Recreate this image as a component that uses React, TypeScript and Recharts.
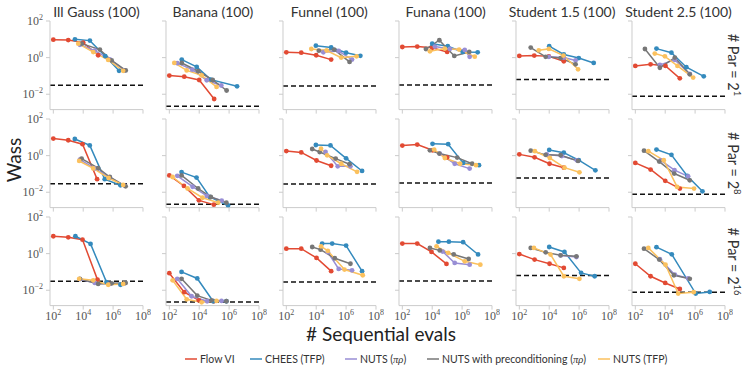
import React from 'react';
import { LineChart, Line, XAxis, YAxis, ReferenceLine } from 'recharts';

type P = [number, number];

const SERIES_KEYS = ['flow', 'chees', 'nutsPr', 'nutsPre', 'nutsTfp'];
const SERIES_COLORS = ['#E24A33', '#348ABD', '#988ED5', '#777777', '#FBC15E'];
const PROBLEMS = ['Ill Gauss (100)', 'Banana (100)', 'Funnel (100)', 'Funana (100)', 'Student 1.5 (100)', 'Student 2.5 (100)'];
const PAR_EXPONENTS = ['1', '8', '16'];
const X_TICKS = [1e2, 1e4, 1e6, 1e8];
const Y_TICKS = [1e-2, 1, 1e2];
const X_DOMAIN = [60, 1e8];
const Y_DOMAIN = [0.00145, 100];

// ---- #Par = 2^1 ----
const gauss_p1 = {
  flow: [[1e2, 9.5], [1e3, 9.1], [1e4, 6.6], [1e5, 1.35]] as P[],
  chees: [[2.8e3, 10], [2.8e4, 8.5], [3e5, 1.2], [2.5e6, 0.19]] as P[],
  nutsPr: [[6e3, 5.0], [6e4, 2.4], [6e5, 0.8], [6e6, 0.2]] as P[],
  nutsPre: [[8e3, 5.8], [1.3e5, 2.75], [8e5, 0.7], [7e6, 0.2]] as P[],
  nutsTfp: [[4.7e3, 5.8], [4.7e4, 2.0], [4.7e5, 0.75], [4.7e6, 0.19]] as P[],
};
const banana_p1 = {
  flow: [[1e2, 0.105], [1e3, 0.091], [1e4, 0.06], [1e5, 0.0055]] as P[],
  chees: [[680, 0.78], [6.8e3, 0.31], [6e4, 0.063], [3.4e6, 0.027]] as P[],
  nutsPr: [[340, 0.5], [3.4e3, 0.22], [3.2e4, 0.058], [3e5, 0.03]] as P[],
  nutsPre: [[680, 0.51], [8.5e3, 0.18], [8e4, 0.06], [6.8e5, 0.016]] as P[],
  nutsTfp: [[215, 0.51], [1.45e3, 0.2], [1.45e4, 0.107], [1.45e5, 0.025]] as P[],
};
const funnel_p1 = {
  flow: [[1e2, 1.95], [1e3, 1.86], [1e4, 1.35], [1e5, 0.78]] as P[],
  chees: [[9.5e3, 4.5], [1e5, 3.6], [1e6, 1.86], [9e6, 1.26]] as P[],
  nutsPr: [[3e4, 1.95], [3.2e5, 2.3], [2.5e6, 0.78]] as P[],
  nutsPre: [[1.5e4, 2.4], [1.6e5, 2.75], [1.7e6, 0.58]] as P[],
  nutsTfp: [[4.7e3, 2.95], [5e4, 2.45], [4.7e5, 1.0], [5e6, 1.17]] as P[],
};
const funana_p1 = {
  flow: [[1e2, 3.8], [1e3, 4.0], [1e4, 3.45], [1e5, 2.05]] as P[],
  chees: [[1e4, 5.75], [1.1e5, 4.2], [1.1e6, 2.05], [1.1e7, 1.95]] as P[],
  nutsPr: [[1.5e4, 4.0], [1.5e5, 3.0], [1.5e6, 2.6], [3.2e6, 1.1]] as P[],
  nutsPre: [[3.8e3, 2.95], [3e4, 8.9], [3e5, 1.23], [3e6, 2.05]] as P[],
  nutsTfp: [[7e3, 2.2], [7e4, 3.1], [6.3e5, 2.75], [7e6, 1.12]] as P[],
};
const student15_p1 = {
  flow: [[1e2, 1.23], [1e3, 1.29], [9.5e3, 1.17], [9.5e4, 0.63]] as P[],
  chees: [[1e4, 4.2], [9.5e4, 1.48], [9.5e5, 0.95], [9.5e6, 0.51]] as P[],
  nutsPr: [[9.5e3, 1.1], [9.5e4, 1.0], [5.8e5, 0.7]] as P[],
  nutsPre: [[580, 3.55], [5.8e3, 1.1], [5.8e4, 0.95], [5.8e5, 0.43]] as P[],
  nutsTfp: [[2e3, 2.5], [9.5e3, 3.0], [9e4, 1.3], [8.5e5, 0.23]] as P[],
};
const student25_p1 = {
  flow: [[1e2, 0.35], [1.05e3, 0.43], [1.05e4, 0.35], [9.5e4, 0.074]] as P[],
  chees: [[2.6e3, 3.1], [2.6e4, 1.86], [2.6e5, 0.3], [3.8e6, 0.095]] as P[],
  nutsPr: [[4.4e3, 0.4], [4.4e4, 0.75], [4.4e5, 0.13]] as P[],
  nutsPre: [[440, 2.95], [4.4e3, 0.28], [4.4e4, 1.0], [4.4e5, 0.123]] as P[],
  nutsTfp: [[2e3, 1.66], [9.5e3, 1.17], [6.6e4, 0.35], [7.4e5, 0.081]] as P[],
};

// ---- #Par = 2^8 ----
const gauss_p8 = {
  flow: [[1e2, 8.5], [1e3, 6.9], [9e3, 4.2], [8.5e4, 0.052]] as P[],
  chees: [[2.75e3, 8.1], [2.75e4, 3.6], [2.75e5, 0.052], [3.1e6, 0.024]] as P[],
  nutsPr: [[6e3, 0.6], [6e4, 0.2], [6e5, 0.065], [6e6, 0.023]] as P[],
  nutsPre: [[7.8e3, 0.69], [1e5, 0.21], [6e5, 0.068], [6.9e6, 0.021]] as P[],
  nutsTfp: [[5.4e3, 0.51], [4.7e4, 0.2], [5e5, 0.06], [4.7e6, 0.025]] as P[],
};
const banana_p8 = {
  flow: [[1e2, 0.083], [950, 0.022], [9.5e3, 0.0036], [9.5e4, 0.0021]] as P[],
  chees: [[660, 0.126], [6.6e3, 0.063], [5.1e4, 0.0055], [8.5e5, 0.0019]] as P[],
  nutsPr: [[340, 0.079], [3.6e3, 0.02], [3.2e4, 0.0063], [3.2e5, 0.0035]] as P[],
  nutsPre: [[660, 0.083], [8.5e3, 0.016], [6e4, 0.0055], [6.6e5, 0.0027]] as P[],
  nutsTfp: [[166, 0.068], [1.66e3, 0.016], [1.66e4, 0.005], [1.86e5, 0.0027]] as P[],
};
const funnel_p8 = {
  flow: [[1e2, 1.78], [1e3, 1.5], [1.05e4, 0.54], [1e5, 0.28]] as P[],
  chees: [[9.5e3, 3.8], [9e4, 3.6], [1e6, 0.71], [1.17e7, 0.145]] as P[],
  nutsPr: [[4.2e4, 1.6], [2.75e5, 0.26], [1.95e6, 0.26]] as P[],
  nutsPre: [[5.4e3, 2.3], [1.7e4, 1.58], [2e5, 0.69], [1.7e6, 0.34]] as P[],
  nutsTfp: [[2.1e4, 2.4], [5.4e4, 1.04], [4.7e5, 0.36], [5.4e6, 0.13]] as P[],
};
const funana_p8 = {
  flow: [[1e2, 3.55], [1e3, 4.0], [1.05e4, 1.95], [1e5, 0.8]] as P[],
  chees: [[1.05e4, 4.4], [1.17e5, 4.2], [1.17e6, 0.4], [1.35e7, 0.3]] as P[],
  nutsPr: [[3.2e4, 1.3], [3.2e5, 0.36], [3.2e6, 0.195]] as P[],
  nutsPre: [[7e3, 1.95], [3e4, 1.3], [4.7e5, 0.78], [4.7e6, 0.36]] as P[],
  nutsTfp: [[1.35e4, 2.15], [7e4, 0.74], [7.4e5, 0.36], [8.5e6, 0.3]] as P[],
};
const student15_p8 = {
  flow: [[1e2, 1.17], [1.05e3, 0.81], [1.05e4, 0.36], [9.5e4, 0.22]] as P[],
  chees: [[1e4, 2.05], [9.5e4, 1.45], [9.5e5, 0.56], [1.23e7, 0.158]] as P[],
  nutsPr: [[7e3, 1.15], [7e4, 0.95], [7e5, 0.55]] as P[],
  nutsPre: [[580, 1.86], [5.8e3, 1.1], [5.8e4, 1.05], [8.5e5, 0.51]] as P[],
  nutsTfp: [[1.1e3, 1.74], [1.1e4, 0.74], [1.05e5, 0.22], [1.05e6, 0.123]] as P[],
};
const student25_p8 = {
  flow: [[1e2, 0.4], [1.05e3, 0.174], [1e4, 0.042], [9.5e4, 0.0158]] as P[],
  chees: [[2.6e3, 2.15], [2.6e4, 1.1], [3e5, 0.078], [3.1e6, 0.0112]] as P[],
  nutsPr: [[5e3, 0.55], [4.2e4, 0.16], [3.4e5, 0.074]] as P[],
  nutsPre: [[380, 1.86], [4e3, 0.47], [4e4, 0.105], [4.4e5, 0.045]] as P[],
  nutsTfp: [[740, 1.74], [8e3, 0.56], [6.3e4, 0.0195], [8.5e5, 0.0158]] as P[],
};

// ---- #Par = 2^16 ----
const gauss_p16 = {
  flow: [[1e2, 8.9], [1e3, 7.8], [9e3, 5.75], [9e4, 0.038]] as P[],
  chees: [[3e3, 8.9], [3.1e4, 3.4], [3.6e5, 0.028], [3.1e6, 0.02]] as P[],
  nutsPr: [[6e3, 0.04], [6e4, 0.025], [6e5, 0.022], [6e6, 0.024]] as P[],
  nutsPre: [[6e3, 0.042], [1e5, 0.022], [8e5, 0.024], [6.9e6, 0.025]] as P[],
  nutsTfp: [[5.4e3, 0.042], [4.7e4, 0.035], [4.7e5, 0.02], [4.7e6, 0.022]] as P[],
};
const banana_p16 = {
  flow: [[1e2, 0.085], [1e3, 0.0078], [9.5e3, 0.0028], [9.5e4, 0.0025]] as P[],
  chees: [[660, 0.1], [7.4e3, 0.044], [8.5e4, 0.0025], [6.6e5, 0.0025]] as P[],
  nutsPr: [[340, 0.042], [3.1e3, 0.0047], [3.4e4, 0.0025], [3.1e5, 0.0026]] as P[],
  nutsPre: [[660, 0.042], [7.4e3, 0.0051], [6.6e4, 0.0028], [6.6e5, 0.0025]] as P[],
  nutsTfp: [[166, 0.035], [1.45e3, 0.0032], [1.45e4, 0.0022], [1.45e5, 0.0026]] as P[],
};
const funnel_p16 = {
  flow: [[1e2, 1.86], [1e3, 1.86], [1.05e4, 0.58], [1e5, 0.11]] as P[],
  chees: [[2.5e4, 3.55], [1.17e5, 3.55], [1e6, 2.75], [1.17e7, 0.11]] as P[],
  nutsPr: [[6e4, 1.2], [3.2e5, 0.145], [2.5e6, 0.123]] as P[],
  nutsPre: [[5.4e3, 2.3], [1.95e4, 1.65], [1.75e5, 0.56], [1.95e6, 0.28]] as P[],
  nutsTfp: [[2.1e4, 2.5], [6e4, 1.4], [7.8e5, 0.135], [1.3e7, 0.066]] as P[],
};
const funana_p16 = {
  flow: [[1e2, 3.55], [1e3, 3.55], [9e3, 1.23], [9e4, 0.275]] as P[],
  chees: [[2.6e4, 4.5], [1.3e5, 4.5], [1.17e6, 4.2], [1.17e7, 0.9]] as P[],
  nutsPr: [[5e4, 1.3], [3.2e5, 0.31], [3.2e6, 0.25]] as P[],
  nutsPre: [[7e3, 2.05], [3.2e4, 1.5], [2.75e5, 0.9], [2.75e6, 0.51]] as P[],
  nutsTfp: [[1.95e4, 2.5], [1.17e5, 1.1], [1.5e6, 0.38], [1.66e7, 0.25]] as P[],
};
const student15_p16 = {
  flow: [[1e2, 0.95], [1.05e3, 0.47], [1.05e4, 0.28], [9.5e4, 0.166]] as P[],
  chees: [[1e4, 2.3], [1.05e5, 1.23], [1.35e6, 0.089], [1.1e7, 0.058]] as P[],
  nutsPr: [[5.8e4, 0.8], [6.6e5, 0.65]] as P[],
  nutsPre: [[580, 2.05], [5.8e3, 1.17], [5.8e4, 0.81], [6.6e5, 0.71]] as P[],
  nutsTfp: [[950, 2.05], [1.23e4, 0.89], [9.5e4, 0.058], [1.05e6, 0.042]] as P[],
};
const student25_p16 = {
  flow: [[1e2, 0.28], [1.05e3, 0.058], [1e4, 0.025], [9.5e4, 0.0117]] as P[],
  chees: [[2.6e3, 2.25], [2.75e4, 0.91], [1.1e6, 0.0066], [9.5e6, 0.0081]] as P[],
  nutsPr: [[4.4e3, 0.5], [4.4e4, 0.07], [3.4e5, 0.045]] as P[],
  nutsPre: [[380, 1.86], [4e3, 0.47], [3.8e4, 0.066], [4.4e5, 0.042]] as P[],
  nutsTfp: [[740, 2.05], [1.05e4, 0.25], [7.4e4, 0.0066], [8.1e5, 0.0078]] as P[],
};

// reference (dashed) levels per row, per problem
const REF_P1 = [0.031, 0.0022, 0.028, 0.032, 0.063, 0.0077];
const REF_P8 = [0.0295, 0.0022, 0.028, 0.032, 0.06, 0.0077];
const REF_P16 = [0.031, 0.0023, 0.028, 0.032, 0.063, 0.0077];

const GRID = [
  [gauss_p1, banana_p1, funnel_p1, funana_p1, student15_p1, student25_p1],
  [gauss_p8, banana_p8, funnel_p8, funana_p8, student15_p8, student25_p8],
  [gauss_p16, banana_p16, funnel_p16, funana_p16, student15_p16, student25_p16],
];
const REFS = [REF_P1, REF_P8, REF_P16];

// layout
const AX0 = 50;
const COL_STEP = 116.4;
const TOP0 = 20.7;
const ROW_STEP = 98.3;
const PW = 93;
const PH = 88.6;
const LM = 45;
const TM = 12;
const RM = 8;
const XH = 26;

const SANS = 'Lato, "Noto Sans", sans-serif';
const SERIF = '"Liberation Serif", "DejaVu Serif", serif';

const expStr = (v: number) => {
  const e = Math.round(Math.log10(v));
  return e < 0 ? '\u2212' + String(-e) : String(e);
};

const XTick = (props: any) => {
  const { x, y, payload } = props;
  return (
    <text x={x} y={y} dy="0.71em" textAnchor="middle" fontFamily={SERIF} fontSize={12} fill="#555">
      10<tspan dy={-5} fontSize={8}>{expStr(payload.value)}</tspan>
    </text>
  );
};
const YTick = (props: any) => {
  const { x, y, payload } = props;
  return (
    <text x={x} y={y} dy="0.35em" textAnchor="end" fontFamily={SERIF} fontSize={12} fill="#555">
      10<tspan dy={-5} fontSize={8}>{expStr(payload.value)}</tspan>
    </text>
  );
};
const NoTick = () => null;

function Panel({ data, refLevel, row, col }: any) {
  const ax = AX0 + COL_STEP * col;
  const top = TOP0 + ROW_STEP * row;
  const W = LM + PW + RM;
  const H = TM + PH + XH;
  return (
    <div style={{ position: 'absolute', left: ax - LM, top: top - TM }}>
      <LineChart width={W} height={H} margin={{ top: TM, right: RM, left: 0, bottom: 0 }}>
        <XAxis
          dataKey="x"
          type="number"
          scale="log"
          domain={X_DOMAIN}
          ticks={X_TICKS}
          interval={0}
          allowDataOverflow
          height={XH}
          tickSize={4}
          tickMargin={2}
          stroke="#cccccc"
          tick={row === 2 ? XTick : NoTick}
        />
        <YAxis
          type="number"
          scale="log"
          domain={Y_DOMAIN}
          ticks={Y_TICKS}
          interval={0}
          allowDataOverflow
          width={LM}
          tickSize={4}
          tickMargin={3}
          stroke="#cccccc"
          tick={col === 0 ? YTick : NoTick}
        />
        <ReferenceLine y={refLevel} stroke="#111" strokeDasharray="5 3" strokeWidth={1.5} />
        {SERIES_KEYS.map((k, i) => (
          <Line
            key={k}
            data={(data[k] as P[]).map(([x, y]) => ({ x, y }))}
            dataKey="y"
            stroke={SERIES_COLORS[i]}
            strokeWidth={1.5}
            dot={{ r: 2.4, fill: SERIES_COLORS[i], stroke: SERIES_COLORS[i], strokeWidth: 0 }}
            isAnimationActive={false}
          />
        ))}
      </LineChart>
    </div>
  );
}

const LEGEND_LINE_X = [185, 250, 345, 427, 598];

function LegendLabel({ i }: { i: number }) {
  const y = 362.5;
  const x = LEGEND_LINE_X[i] + 15;
  const common = { x, y, fontFamily: SANS, fontSize: 10.5, fill: '#333' };
  if (i === 2 || i === 3) {
    const pre = i === 2 ? 'NUTS (' : 'NUTS with preconditioning (';
    return (
      <text {...common}>
        {pre}
        <tspan fontFamily={SERIF} fontStyle="italic">πρ</tspan>)
      </text>
    );
  }
  return <text {...common}>{i === 0 ? 'Flow VI' : i === 1 ? 'CHEES (TFP)' : 'NUTS (TFP)'}</text>;
}

export default function App() {
  return (
    <div style={{ position: 'absolute', left: 0, top: 0, width: 747, height: 374, background: '#fff', overflow: 'hidden' }}>
      {GRID.map((rowData, r) =>
        rowData.map((d, c) => <Panel key={`${r}-${c}`} data={d} refLevel={REFS[r][c]} row={r} col={c} />)
      )}
      <svg width={747} height={374} style={{ position: 'absolute', left: 0, top: 0, pointerEvents: 'none' }}>
        {PROBLEMS.map((t, c) => (
          <text key={t} x={AX0 + COL_STEP * c + PW / 2} y={17} textAnchor="middle" fontFamily={SANS} fontSize={14} fill="#333">
            {t}
          </text>
        ))}
        {PAR_EXPONENTS.map((e, r) => (
          <g key={e} transform={`translate(728, ${TOP0 + ROW_STEP * r + 44.3}) rotate(90)`}>
            <text x={0} y={0} textAnchor="middle" fontFamily={SANS} fontSize={14.5} fill="#333">
              # Par = 2<tspan dy={-6} fontSize={9.5}>{e}</tspan>
            </text>
          </g>
        ))}
        <g transform="translate(21, 160) rotate(-90)">
          <text x={0} y={0} textAnchor="middle" fontFamily={SANS} fontSize={19} fill="#222">Wass</text>
        </g>
        <text x={381} y={341} textAnchor="middle" fontFamily={SANS} fontSize={19} fill="#222">
          # Sequential evals
        </text>
        {LEGEND_LINE_X.map((lx, i) => (
          <g key={i}>
            <line x1={lx} x2={lx + 12} y1={359} y2={359} stroke={SERIES_COLORS[i]} strokeWidth={1.5} />
            <LegendLabel i={i} />
          </g>
        ))}
      </svg>
    </div>
  );
}
